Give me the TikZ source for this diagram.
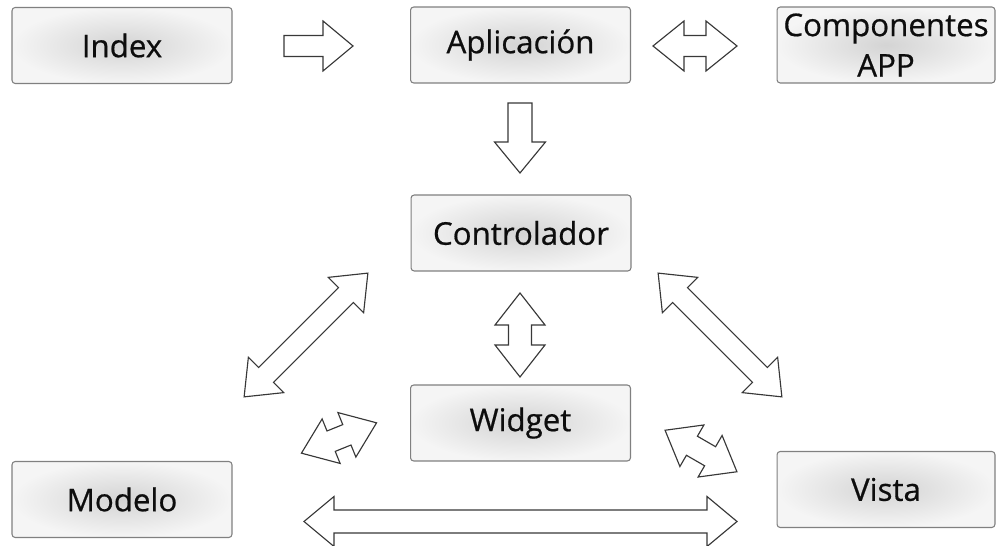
\documentclass[tikz,border=0pt]{standalone}
\usepackage{fontspec}
\setmainfont{Open Sans}
\newfontfamily\labelfont{Open Sans}[FakeBold=0.6]
\begin{document}
\begin{tikzpicture}[x=0.02cm,y=-0.02cm]
\tikzset{
  box/.style={draw=black!50, line width=0.6pt, rounded corners=1.8pt,
    inner color=black!17, outer color=black!4,
    minimum width=4.4cm, minimum height=1.52cm, inner sep=0pt,
    font=\labelfont\fontsize{17.8}{23}\selectfont, text=black!95, align=center},
  arrowline/.style={draw=black!78, fill=white, line width=0.65pt, line join=miter},
  % double-headed block arrow: length, head length, half shaft width, half head width
  pics/twoway/.style n args={4}{code={
    \path[arrowline] ({-#1/2},0) -- ({-#1/2+#2},#4) -- ({-#1/2+#2},#3)
      -- ({#1/2-#2},#3) -- ({#1/2-#2},#4) -- ({#1/2},0)
      -- ({#1/2-#2},{-#4}) -- ({#1/2-#2},{-#3}) -- ({-#1/2+#2},{-#3})
      -- ({-#1/2+#2},{-#4}) -- cycle;
  }},
  % single-headed block arrow: length, head length, half shaft width, half head width
  pics/oneway/.style n args={4}{code={
    \path[arrowline] ({-#1/2},#3) -- ({#1/2-#2},#3) -- ({#1/2-#2},#4)
      -- ({#1/2},0) -- ({#1/2-#2},{-#4}) -- ({#1/2-#2},{-#3})
      -- ({-#1/2},{-#3}) -- cycle;
  }},
}
\useasboundingbox (0,0) rectangle (997,546);

% boxes
\node[box] (index) at (122,45.5) {Index};
\node[box] (app) at (520.5,45) {Aplicación};
\node[box, minimum width=4.36cm] (comp) at (886,45) {Componentes\\APP};
\node[box] (ctrl) at (521,233) {Controlador};
\node[box] (widget) at (520.5,423) {Widget};
\node[box] (modelo) at (122,499.5) {Modelo};
\node[box, minimum width=4.36cm] (vista) at (886,489.5) {Vista};

% block arrows
\pic (indexapp) at (318.5,46) {oneway={69}{30}{10.5}{25}};
\pic (appcomp) at (695,46) {twoway={84}{31}{10.5}{25}};
\pic[rotate=-90] (appctrl) at (520,138) {oneway={70}{31}{12}{25.5}};
\pic[rotate=90] (ctrlwidget) at (520,335) {twoway={84}{32}{11.5}{25}};
\pic[rotate=45] (ctrlmodelo) at (306,335) {twoway={175}{31}{10.5}{25}};
\pic[rotate=-45] (ctrlvista) at (720,335) {twoway={175}{31}{10.5}{25}};
\pic[rotate=22] (widgetmodelo) at (339,438) {twoway={81}{32}{11}{24}};
\pic[rotate=-30] (widgetvista) at (701,451) {twoway={83}{31}{11}{24}};
\pic (modelovista) at (520.5,521.5) {twoway={433}{30}{11.5}{25}};
\end{tikzpicture}
\end{document}
